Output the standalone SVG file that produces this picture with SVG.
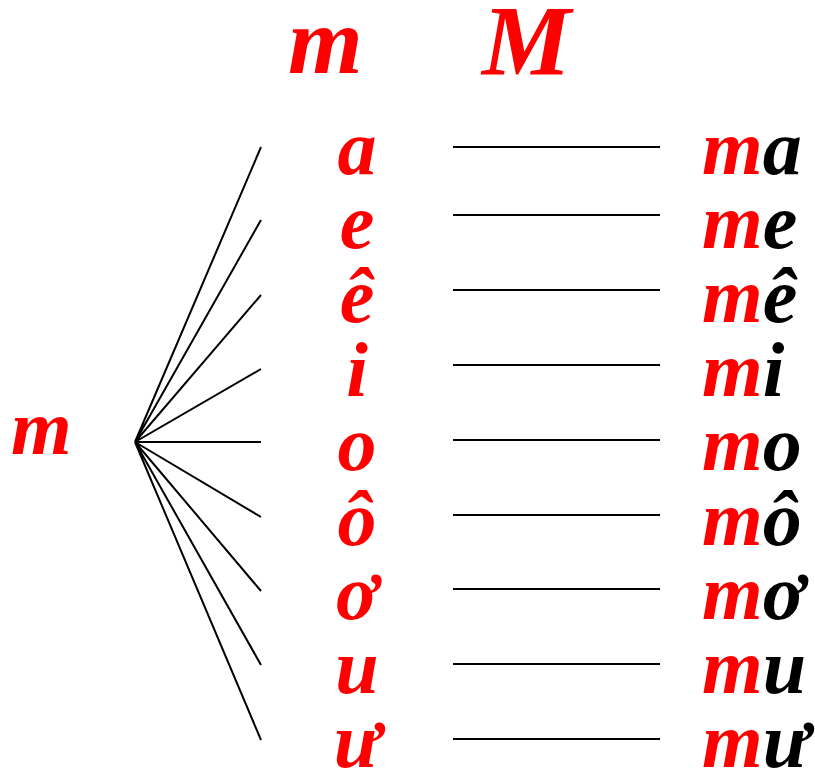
<svg xmlns="http://www.w3.org/2000/svg" width="815" height="769" viewBox="0 0 815 769">
<style>
text{font-family:"Liberation Serif","Times New Roman",serif;font-weight:bold;font-style:italic}
.r{fill:#FF0000}
.k{fill:#000000}
.big{font-size:96px}
.v{font-size:78px}
.ln{stroke:#000;stroke-width:2;fill:none}
</style>
<rect width="815" height="769" fill="#fff"/>
<g id="head-m"><text class="r big" x="288" y="73">m</text></g>
<g id="head-M"><text class="r big" x="482" y="74" style="font-size:100px">M</text></g>
<g id="root"><text class="r v" x="11" y="454">m</text></g>
<g id="connectors">
<path class="ln" d="M135 442L261 147M135 442L261 220M135 442L261 295M135 442L261 369M135 442L261 442M135 442L261 517M135 442L261 591M135 442L261 665M135 442L261 740"/>
<path class="ln" d="M453 147H660M453 215H660M453 290H660M453 365H660M453 440H660M453 515H660M453 589H660M453 664H660M453 739H660"/>
</g>
<g id="v-a"><text class="r v" x="357" y="174" text-anchor="middle">a</text></g>
<g id="v-e"><text class="r v" x="357" y="248" text-anchor="middle">e</text></g>
<g id="v-ee"><text class="r v" x="357" y="322" text-anchor="middle">ê</text></g>
<g id="v-i"><text class="r v" x="357" y="396" text-anchor="middle">i</text></g>
<g id="v-o"><text class="r v" x="357" y="470" text-anchor="middle">o</text></g>
<g id="v-oo"><text class="r v" x="357" y="545" text-anchor="middle">ô</text></g>
<g id="v-ow"><text class="r v" x="357" y="619" text-anchor="middle">ơ</text></g>
<g id="v-u"><text class="r v" x="357" y="693" text-anchor="middle">u</text></g>
<g id="v-uw"><text class="r v" x="357" y="767" text-anchor="middle">ư</text></g>
<g id="w-ma"><text class="v" x="702" y="174"><tspan class="r">m</tspan><tspan class="k">a</tspan></text></g>
<g id="w-me"><text class="v" x="702" y="248"><tspan class="r">m</tspan><tspan class="k">e</tspan></text></g>
<g id="w-mee"><text class="v" x="702" y="322"><tspan class="r">m</tspan><tspan class="k">ê</tspan></text></g>
<g id="w-mi"><text class="v" x="702" y="396"><tspan class="r">m</tspan><tspan class="k">i</tspan></text></g>
<g id="w-mo"><text class="v" x="702" y="470"><tspan class="r">m</tspan><tspan class="k">o</tspan></text></g>
<g id="w-moo"><text class="v" x="702" y="545"><tspan class="r">m</tspan><tspan class="k">ô</tspan></text></g>
<g id="w-mow"><text class="v" x="702" y="619"><tspan class="r">m</tspan><tspan class="k">ơ</tspan></text></g>
<g id="w-mu"><text class="v" x="702" y="693"><tspan class="r">m</tspan><tspan class="k">u</tspan></text></g>
<g id="w-muw"><text class="v" x="702" y="767"><tspan class="r">m</tspan><tspan class="k">ư</tspan></text></g>
</svg>
